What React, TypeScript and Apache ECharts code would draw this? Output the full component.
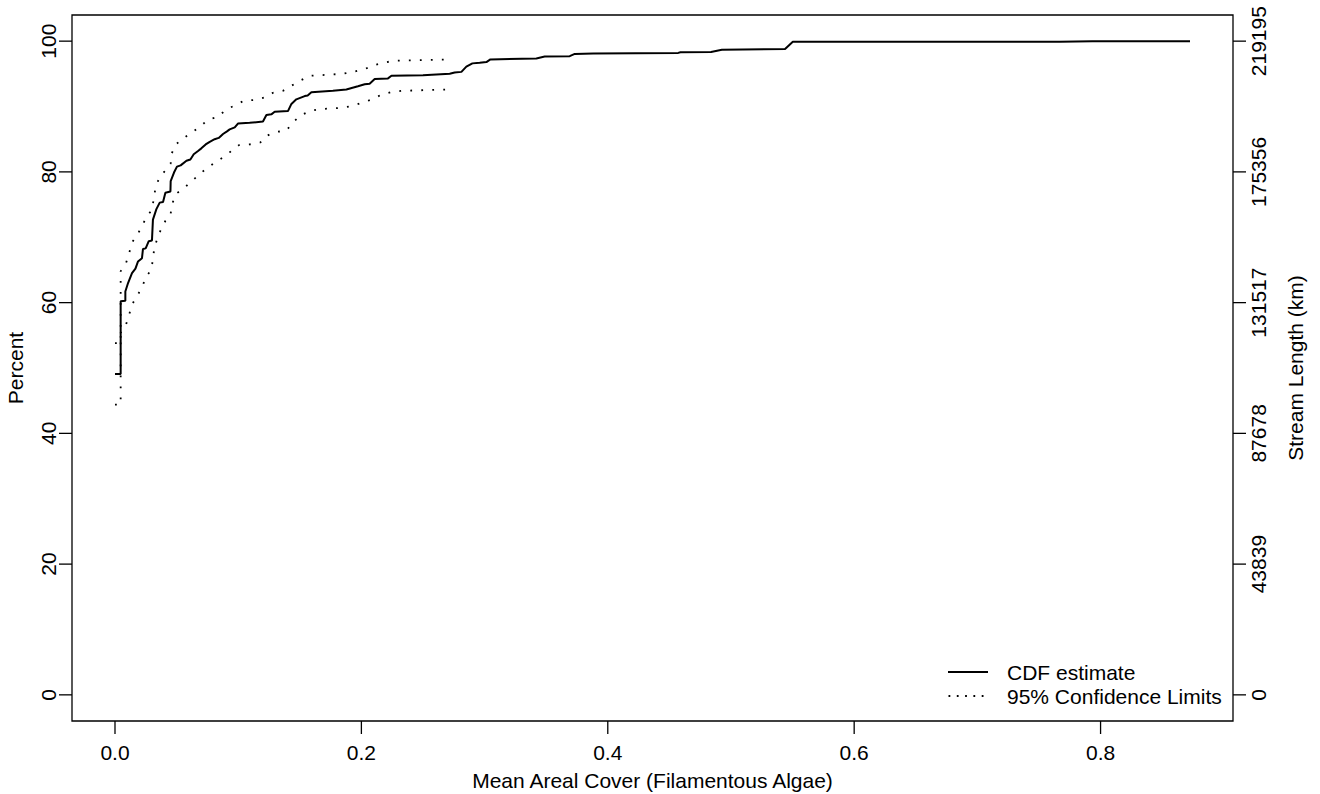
import React, { useEffect, useRef } from "react";
import * as echarts from "echarts";

// ---- data ----
const xTicks = [0, 0.2, 0.4, 0.6, 0.8];
const pctTicks = [0, 20, 40, 60, 80, 100];
const lengthLabels = ["0", "43839", "87678", "131517", "175356", "219195"];

const cdfX = [0, 0.0046, 0.0046, 0.0084, 0.0084, 0.0106, 0.0138, 0.0166, 0.0187, 0.0219, 0.0227, 0.0249, 0.0274, 0.03, 0.0308, 0.0336, 0.0363, 0.039, 0.0409, 0.045, 0.0452, 0.0479, 0.0503, 0.0533, 0.058, 0.0612, 0.0639, 0.0674, 0.0701, 0.0736, 0.0769, 0.0809, 0.0842, 0.0877, 0.0909, 0.0931, 0.0972, 0.0998, 0.1093, 0.1201, 0.1229, 0.1269, 0.1296, 0.1404, 0.1432, 0.1472, 0.154, 0.1564, 0.1594, 0.1769, 0.1878, 0.1972, 0.2027, 0.2067, 0.2108, 0.2216, 0.2244, 0.25, 0.2717, 0.2757, 0.2812, 0.2852, 0.2901, 0.296, 0.3015, 0.3047, 0.342, 0.3488, 0.3691, 0.3732, 0.3882, 0.4572, 0.459, 0.4838, 0.4926, 0.5439, 0.5502, 0.7668, 0.7933, 0.8726];
const cdfY = [49.1, 49.1, 60.2, 60.3, 61.7, 63.0, 64.5, 65.2, 66.3, 66.8, 68.2, 68.3, 69.4, 69.5, 72.7, 74.3, 75.3, 75.4, 76.8, 77.0, 78.6, 79.9, 80.8, 81.0, 81.7, 81.9, 82.7, 83.2, 83.6, 84.2, 84.6, 85.0, 85.2, 85.8, 86.2, 86.5, 86.8, 87.4, 87.5, 87.7, 88.7, 88.8, 89.2, 89.3, 90.4, 91.1, 91.6, 91.7, 92.2, 92.4, 92.6, 93.1, 93.4, 93.5, 94.2, 94.3, 94.7, 94.8, 95.0, 95.2, 95.3, 96.1, 96.6, 96.7, 96.8, 97.2, 97.35, 97.65, 97.7, 98.05, 98.1, 98.2, 98.3, 98.35, 98.67, 98.8, 99.9, 99.9, 100, 100];

const upperX = [0, 0.0046, 0.0046, 0.0087, 0.0114, 0.0138, 0.0182, 0.0222, 0.0255, 0.03, 0.0314, 0.0328, 0.0357, 0.0403, 0.0452, 0.0458, 0.0493, 0.056, 0.0628, 0.0696, 0.0755, 0.0836, 0.0904, 0.098, 0.1047, 0.1134, 0.1216, 0.1282, 0.1364, 0.1434, 0.1507, 0.1586, 0.1846, 0.1932, 0.2021, 0.2102, 0.2181, 0.2265, 0.2725];
const upperY = [53.8, 53.8, 64.8, 65.9, 67.5, 69.2, 70.4, 71.8, 73.1, 74.2, 75.8, 77.5, 79.0, 80.1, 81.3, 82.7, 84.2, 85.2, 86.1, 87.0, 88.0, 88.4, 89.6, 90.2, 90.9, 91.0, 91.4, 92.1, 92.4, 93.2, 94.0, 94.7, 95.0, 95.3, 95.7, 96.3, 96.7, 97.0, 97.2];

const lowerX = [0, 0.0046, 0.0046, 0.0087, 0.0114, 0.0138, 0.0182, 0.0222, 0.0247, 0.029, 0.0308, 0.0317, 0.0341, 0.0371, 0.0409, 0.045, 0.0463, 0.0493, 0.0558, 0.062, 0.0682, 0.0742, 0.0809, 0.0882, 0.0945, 0.1006, 0.1093, 0.118, 0.1229, 0.1302, 0.1391, 0.144, 0.1505, 0.158, 0.1661, 0.1837, 0.1927, 0.2008, 0.2089, 0.2162, 0.2238, 0.2324, 0.2692];
const lowerY = [44.4, 44.4, 55.4, 56.5, 58.1, 59.7, 61.1, 62.4, 63.8, 64.9, 66.5, 68.1, 69.7, 71.1, 72.5, 73.4, 75.0, 76.6, 77.5, 78.5, 79.6, 80.5, 81.4, 82.3, 83.2, 84.1, 84.2, 84.5, 85.5, 86.1, 86.3, 87.5, 88.6, 89.3, 89.6, 89.8, 90.1, 90.6, 91.1, 91.8, 92.2, 92.4, 92.6];

// axis extents (R style: data range extended by 4% on each side)
const X_MIN = -0.0349;
const X_MAX = 0.9075;
const Y_MIN = -4;
const Y_MAX = 104;

const FONT = "'Liberation Sans', Arial, Helvetica, sans-serif";
const FS = 21;
const TICK = 13;

const pairs = (xs: number[], ys: number[]) => xs.map((x, i) => [x, ys[i]]);

export default function App() {
  const ref = useRef<HTMLDivElement>(null);
  useEffect(() => {
    if (!ref.current) return;
    const chart = echarts.init(ref.current, null, { renderer: "svg" });
    const labelStyle = { color: "#000", fontSize: FS, fontFamily: FONT };
    const lineStyle = { color: "#000", width: 1.3 };
    const axisLine = { show: false, onZero: false, lineStyle };

    // tick marks: one item per tick, [x, y, dx, dy] direction of the tick
    const tickData = [
      ...xTicks.map((v) => [v, Y_MIN, 0, 1]),
      ...pctTicks.map((v) => [X_MIN, v, -1, 0]),
      ...pctTicks.map((v) => [X_MAX, v, 1, 0]),
    ];

    chart.setOption({
      animation: false,
      backgroundColor: "#fff",
      textStyle: { fontFamily: FONT, color: "#000" },
      grid: {
        left: 72,
        right: 87,
        top: 15,
        bottom: 73,
        outerBoundsMode: "none",
        containLabel: false,
        show: true,
        borderColor: "#000",
        borderWidth: 1.3,
        backgroundColor: "transparent",
      },
      xAxis: {
        type: "value",
        position: "bottom",
        min: X_MIN,
        max: X_MAX,
        axisLine,
        splitLine: { show: false },
        axisTick: { show: false },
        axisLabel: {
          ...labelStyle,
          customValues: xTicks,
          margin: 21,
          formatter: (v: number) => v.toFixed(1),
        },
        name: "Mean Areal Cover (Filamentous Algae)",
        nameLocation: "middle",
        nameGap: 49,
        nameTextStyle: labelStyle,
      },
      yAxis: [
        {
          type: "value",
          position: "left",
          min: Y_MIN,
          max: Y_MAX,
          axisLine,
          splitLine: { show: false },
          axisTick: { show: false },
          axisLabel: { ...labelStyle, customValues: pctTicks, rotate: 90, margin: 13 },
          name: "Percent",
          nameLocation: "middle",
          nameGap: 46,
          nameRotate: 90,
          nameTextStyle: labelStyle,
        },
        {
          type: "value",
          position: "right",
          min: Y_MIN,
          max: Y_MAX,
          axisLine,
          splitLine: { show: false },
          axisTick: { show: false },
          axisLabel: {
            ...labelStyle,
            customValues: pctTicks,
            rotate: 90,
            margin: 15,
            formatter: (v: number) => {
              const i = pctTicks.indexOf(Math.round(v));
              return i >= 0 ? lengthLabels[i] : "";
            },
          },
          name: "Stream Length (km)",
          nameLocation: "middle",
          nameGap: 52,
          nameRotate: 90,
          nameTextStyle: labelStyle,
        },
      ],
      series: [
        {
          name: "CDF estimate",
          type: "line",
          data: pairs(cdfX, cdfY),
          showSymbol: false,
          symbol: "none",
          lineStyle: { color: "#000", width: 2 },
          z: 3,
        },
        {
          name: "Upper 95% Confidence Limit",
          type: "line",
          data: pairs(upperX, upperY),
          showSymbol: false,
          symbol: "none",
          lineStyle: { color: "#000", width: 1.8, type: [1.8, 9.2] },
        },
        {
          name: "Lower 95% Confidence Limit",
          type: "line",
          data: pairs(lowerX, lowerY),
          showSymbol: false,
          symbol: "none",
          lineStyle: { color: "#000", width: 1.8, type: [1.8, 9.2] },
        },
        {
          name: "ticks",
          type: "custom",
          clip: false,
          silent: true,
          data: tickData,
          encode: { x: 0, y: 1 },
          renderItem: (_params: any, api: any) => {
            const p = api.coord([api.value(0), api.value(1)]);
            const dx = api.value(2);
            const dy = api.value(3);
            return {
              type: "line",
              shape: { x1: p[0], y1: p[1], x2: p[0] + dx * TICK, y2: p[1] + dy * TICK },
              style: { stroke: "#000", lineWidth: 1.3 },
            };
          },
        },
      ],
      graphic: [
        {
          type: "line",
          shape: { x1: 948, y1: 672, x2: 988, y2: 672 },
          style: { stroke: "#000", lineWidth: 2 },
        },
        {
          type: "text",
          x: 1007,
          y: 672,
          style: {
            text: "CDF estimate",
            fill: "#000",
            fontSize: FS,
            fontFamily: FONT,
            verticalAlign: "middle",
            align: "left",
          },
        },
        {
          type: "line",
          shape: { x1: 948.5, y1: 696, x2: 985, y2: 696 },
          style: { stroke: "#000", lineWidth: 1.8, lineDash: [1.8, 6.5] },
        },
        {
          type: "text",
          x: 1007,
          y: 696,
          style: {
            text: "95% Confidence Limits",
            fill: "#000",
            fontSize: FS,
            fontFamily: FONT,
            verticalAlign: "middle",
            align: "left",
          },
        },
      ],
    });
    return () => chart.dispose();
  }, []);
  return (
    <div
      ref={ref}
      style={{ position: "absolute", left: 0, top: 0, width: 1320, height: 794 }}
    />
  );
}
